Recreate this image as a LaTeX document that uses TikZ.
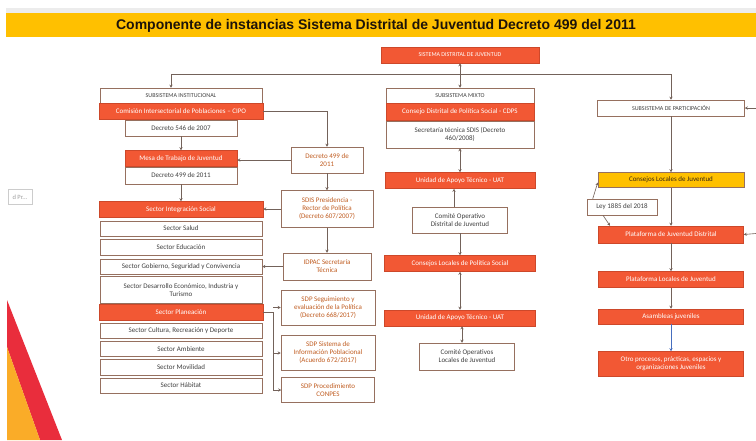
\documentclass[tikz,border=0pt]{standalone}
\usepackage{fontspec}
\setmainfont{Carlito}
\newfontfamily\titlefont{Liberation Sans}
\usetikzlibrary{positioning, arrows.meta}
\definecolor{bandyellow}{RGB}{255,192,0}
\definecolor{boxred}{RGB}{242,88,52}
\definecolor{boxredline}{RGB}{205,72,42}
\definecolor{boxline}{RGB}{150,112,95}
\definecolor{linkgray}{RGB}{115,98,90}
\definecolor{midtext}{RGB}{192,92,32}
\definecolor{stripered}{RGB}{233,45,60}
\definecolor{stripeorange}{RGB}{250,172,40}
\definecolor{linkblue}{RGB}{70,110,190}
\tikzstyle{whitebox} = [rectangle, draw=boxline, fill=white, text=black!75, font=\fontsize{7}{8}\selectfont, align=center, inner sep=1pt, line width=0.5pt]
\tikzstyle{capbox} = [whitebox, font=\fontsize{6}{7}\selectfont]
\tikzstyle{midbox} = [whitebox, text=midtext]
\tikzstyle{redbox} = [rectangle, draw=boxredline, fill=boxred, text=white, font=\fontsize{7}{8}\selectfont, align=center, inner sep=1pt, line width=0.5pt]
\tikzstyle{yelbox} = [rectangle, draw=boxline, fill=bandyellow, text=black!70!brown, font=\fontsize{7}{8}\selectfont, align=center, inner sep=1pt, line width=0.5pt]
\tikzstyle{arrow} = [linkgray, line width=0.6pt, -{Stealth[length=3pt,width=3pt]}]
\tikzstyle{twoway} = [arrow, {Stealth[length=3pt,width=3pt]}-{Stealth[length=3pt,width=3pt]}]
\tikzstyle{link} = [linkgray, line width=0.6pt]

\begin{document}
\begin{tikzpicture}[x=1pt, y=-1pt]
	\useasboundingbox (0,0) rectangle (756,440);
	\fill[white] (0,0) rectangle (756,440);
	\fill[gray!15] (6,8) rectangle (756,13);
	\fill[bandyellow] (6,13) rectangle (756,37);
	\fill[stripered] (7,300) -- (62,440) -- (40,440) -- (7,347) -- cycle;
	\fill[stripeorange] (7,347) -- (40,440) -- (7,440) -- cycle;
	\node (title) at (376,25.5) {\titlefont\bfseries\fontsize{14}{16}\selectfont\color{black!85!brown}Componente de instancias Sistema Distrital de Juventud Decreto 499 del 2011};
	\node (tip) [draw=gray!40, fill=white, text=gray!75, font=\fontsize{6.5}{7}\selectfont, minimum width=24pt, minimum height=15pt, inner sep=1pt] at (20,197) {d Pr...};

	% top of the tree
	\node (sis) [redbox, font=\fontsize{6}{7}\selectfont, minimum width=158pt, minimum height=16pt] at (460,55) {SISTEMA DISTRITAL DE JUVENTUD};
	\coordinate (hub) at (460,74);

	% subsistema institucional
	\node (inst) [capbox, minimum width=162pt, minimum height=15pt] at (181,95.5) {SUBSISTEMA INSTITUCIONAL};
	\node (cipo) [redbox, minimum width=164pt, minimum height=16pt, below=0pt of inst] {Comisión Intersectorial de Poblaciones – CIPO};
	\node (dec546) [whitebox, minimum width=112pt, minimum height=16pt, below=0pt of cipo] {Decreto 546 de 2007};
	\node (mesa) [redbox, minimum width=112pt, minimum height=16pt, below=14pt of dec546] {Mesa de Trabajo de Juventud};
	\node (dec499a) [whitebox, minimum width=112pt, minimum height=17pt, below=0pt of mesa] {Decreto 499 de 2011};
	\node (integ) [redbox, minimum width=164pt, minimum height=16pt, below=17pt of dec499a] {Sector Integración Social};
	\node (salud) [whitebox, minimum width=162pt, minimum height=15pt, below=3pt of integ] {Sector Salud};
	\node (educ) [whitebox, minimum width=162pt, minimum height=16pt, below=3pt of salud] {Sector Educación};
	\node (gob) [whitebox, minimum width=162pt, minimum height=15pt, below=3pt of educ] {Sector Gobierno, Seguridad y Convivencia};
	\node (desa) [whitebox, minimum width=162pt, minimum height=27pt, below=2pt of gob] {Sector Desarrollo Económico, Industria y\\Turismo};
	\node (plan) [redbox, minimum width=164pt, minimum height=16pt, below=0.5pt of desa] {Sector Planeación};
	\node (cult) [whitebox, minimum width=162pt, minimum height=15pt, below=2pt of plan] {Sector Cultura, Recreación y Deporte};
	\node (amb) [whitebox, minimum width=162pt, minimum height=15pt, below=3pt of cult] {Sector Ambiente};
	\node (mov) [whitebox, minimum width=162pt, minimum height=16pt, below=2.5pt of amb] {Sector Movilidad};
	\node (hab) [whitebox, minimum width=162pt, minimum height=15pt, below=2pt of mov] {Sector Hábitat};

	% entidades de apoyo
	\node (dec499b) [midbox, minimum width=72pt, minimum height=26pt] at (327,160) {Decreto 499 de\\2011};
	\node (sdis) [midbox, minimum width=92pt, minimum height=37pt, below=17pt of dec499b] {SDIS Presidencia -\\Rector de Política\\(Decreto 607/2007)};
	\node (idpac) [midbox, minimum width=88pt, minimum height=27pt, below=25pt of sdis] {IDPAC Secretaría\\Técnica};
	\node (sdp1) [midbox, minimum width=94pt, minimum height=35pt] at (328,307.5) {SDP Seguimiento y\\evaluación de la Política\\(Decreto 668/2017)};
	\node (sdp2) [midbox, minimum width=94pt, minimum height=35pt, below=10pt of sdp1] {SDP Sistema de\\Información Poblacional\\(Acuerdo 672/2017)};
	\node (sdp3) [midbox, minimum width=93pt, minimum height=25pt, below=6.5pt of sdp2] {SDP Procedimiento\\CONPES};

	% subsistema mixto
	\node (mixto) [capbox, minimum width=148pt, minimum height=15pt] at (460,95.5) {SUBSISTEMA MIXTO};
	\node (cdps) [redbox, minimum width=148pt, minimum height=17pt, below=0pt of mixto] {Consejo Distrital de Política Social - CDPS};
	\node (sectec) [whitebox, minimum width=148pt, minimum height=27pt, below=0pt of cdps] {Secretaría técnica SDIS (Decreto\\460/2008)};
	\node (uat1) [redbox, minimum width=150pt, minimum height=16pt, below=24pt of sectec] {Unidad de Apoyo Técnico - UAT};
	\node (codj) [whitebox, minimum width=95pt, minimum height=26pt, below=18pt of uat1] {Comité Operativo\\Distrital de Juventud};
	\node (clps) [redbox, minimum width=151pt, minimum height=16pt, below=22pt of codj] {Consejos Locales de Política Social};
	\node (uat2) [redbox, minimum width=151pt, minimum height=16pt, below=38pt of clps] {Unidad de Apoyo Técnico - UAT};
	\node (colj) [whitebox, minimum width=95pt, minimum height=27pt] at (467,356.5) {Comité Operativos\\Locales de Juventud};

	% subsistema de participacion
	\node (part) [capbox, minimum width=147pt, minimum height=16pt] at (671,108) {SUBSISTEMA DE PARTICIPACIÓN};
	\node (clj) [yelbox, minimum width=146pt, minimum height=15pt, below=56pt of part] {Consejos Locales de Juventud};
	\node (ley) [whitebox, minimum width=70pt, minimum height=16pt] at (622,207) {Ley 1885 del 2018};
	\node (pjd) [redbox, minimum width=145pt, minimum height=17pt, below=38pt of clj] {Plataforma de Juventud Distrital};
	\node (plj) [redbox, minimum width=145pt, minimum height=16pt, below=28pt of pjd] {Plataforma Locales de Juventud};
	\node (asam) [redbox, minimum width=145pt, minimum height=15pt, below=21pt of plj] {Asambleas juveniles};
	\node (otro) [redbox, minimum width=145pt, minimum height=25pt, below=27pt of asam] {Otro procesos, prácticas, espacios y\\organizaciones Juveniles};
	\coordinate (edgeA) at (756,108);
	\coordinate (edgeB) at (756,233.5);

	\draw [twoway] (sis) -- (mixto);
	\draw [arrow] (hub) -| ([xshift=-10pt]inst.north);
	\draw [arrow] (hub) -| (part.north);

	\draw [arrow] (cipo.east) -| (dec499b.north);
	\draw [arrow] (dec546) -- (mesa);
	\draw [arrow] (dec499b.west) -- (dec499b.west -| mesa.east);
	\draw [arrow] (dec499a) -- (integ);
	\draw [arrow] (dec499b) -- (sdis);
	\draw [arrow] (sdis.west) -- (sdis.west -| integ.east);
	\draw [arrow] (sdis) -- (idpac);
	\draw [arrow] (idpac.west) -- (idpac.west -| gob.east);
	\path (plan.east) ++(10pt,0) coordinate (bus);
	\draw [link] (plan.east) -- (bus) -- (bus |- sdp3.west);
	\draw [arrow] (bus |- sdp1.west) -- (sdp1.west);
	\draw [arrow] (bus |- sdp2.west) -- (sdp2.west);
	\draw [arrow] (bus |- sdp3.west) -- (sdp3.west);

	\draw [twoway] (sectec) -- (uat1);
	\draw [arrow] ([xshift=-6pt]codj.north) -- ([xshift=-6pt]codj.north |- uat1.south);
	\draw [arrow] (codj) -- (clps);
	\draw [twoway] (clps) -- (uat2);
	\draw [twoway] ([xshift=-5pt]colj.north) -- ([xshift=-5pt]colj.north |- uat2.south);

	\draw [arrow] (part) -- (clj);
	\draw [arrow] (clj) -- (pjd);
	\draw [arrow] (pjd) -- (plj);
	\draw [arrow] (plj) -- (asam);
	\draw [arrow, linkblue] (asam) -- (otro);
	\draw [arrow] ([xshift=6pt]ley.north west) -- ([yshift=-2.5pt]clj.west);
	\draw [arrow] ([xshift=-19pt]ley.south) -- ([xshift=-61pt]pjd.north);
	\draw [arrow] (edgeA) -- (part.east);
	\draw [arrow] (edgeB) -- (pjd.east);
\end{tikzpicture}
\end{document}
